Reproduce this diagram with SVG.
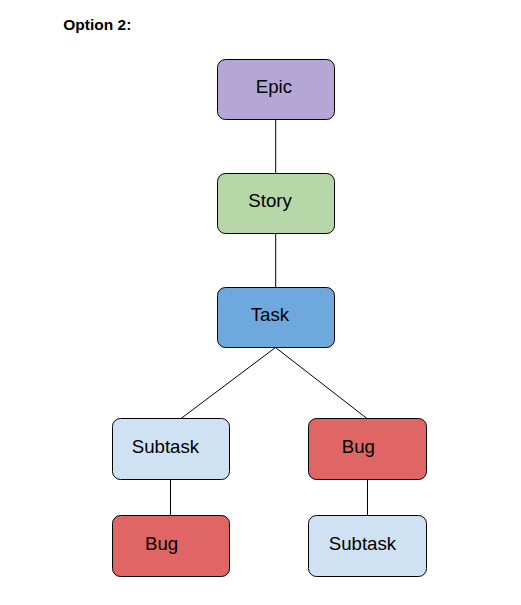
<svg xmlns="http://www.w3.org/2000/svg" width="521" height="605" viewBox="0 0 521 605">
<style>
.box{stroke:#000;stroke-width:1}
.lbl{font-family:"Liberation Sans",Arial,sans-serif;font-size:18.67px;fill:#000}
.title{font-family:"Liberation Sans",Arial,sans-serif;font-size:15.5px;font-weight:bold;fill:#000}
.edge{stroke:#000;stroke-width:1;fill:none}
</style>
<rect width="521" height="605" fill="#fff"/>
<text class="title" x="63.3" y="30">Option 2:</text>
<g id="connectors">
<line class="edge" x1="275.7" y1="119.5" x2="275.7" y2="173.5"/>
<line class="edge" x1="275.7" y1="233.5" x2="275.7" y2="287.5"/>
<line class="edge" x1="275.5" y1="347.5" x2="181" y2="418.5"/>
<line class="edge" x1="275.5" y1="347.5" x2="367" y2="418.5"/>
<line class="edge" x1="170.5" y1="479.5" x2="170.5" y2="515.5"/>
<line class="edge" x1="367.5" y1="479.5" x2="367.5" y2="515.5"/>
</g>
<g id="epic">
<rect class="box" x="217.5" y="59.5" width="117" height="60" rx="8" fill="#b4a7d6"/>
<text class="lbl" x="255.7" y="93.3">Epic</text>
</g>
<g id="story">
<rect class="box" x="217.5" y="173.5" width="117" height="60" rx="8" fill="#b6d7a8"/>
<text class="lbl" x="248.3" y="206.7">Story</text>
</g>
<g id="task">
<rect class="box" x="217.5" y="287.5" width="117" height="60" rx="8" fill="#6fa8dc"/>
<text class="lbl" x="250.7" y="320.5">Task</text>
</g>
<g id="subtask-left">
<rect class="box" x="112.5" y="418.5" width="117" height="61" rx="8" fill="#cfe2f3"/>
<text class="lbl" x="131.7" y="452.7">Subtask</text>
</g>
<g id="bug-right">
<rect class="box" x="308.5" y="418.5" width="118" height="61" rx="8" fill="#e06666"/>
<text class="lbl" x="341.7" y="452.7">Bug</text>
</g>
<g id="bug-left">
<rect class="box" x="112.5" y="515.5" width="117" height="61" rx="8" fill="#e06666"/>
<text class="lbl" x="145" y="550">Bug</text>
</g>
<g id="subtask-right">
<rect class="box" x="308.5" y="515.5" width="118" height="61" rx="8" fill="#cfe2f3"/>
<text class="lbl" x="328.7" y="550">Subtask</text>
</g>
</svg>
